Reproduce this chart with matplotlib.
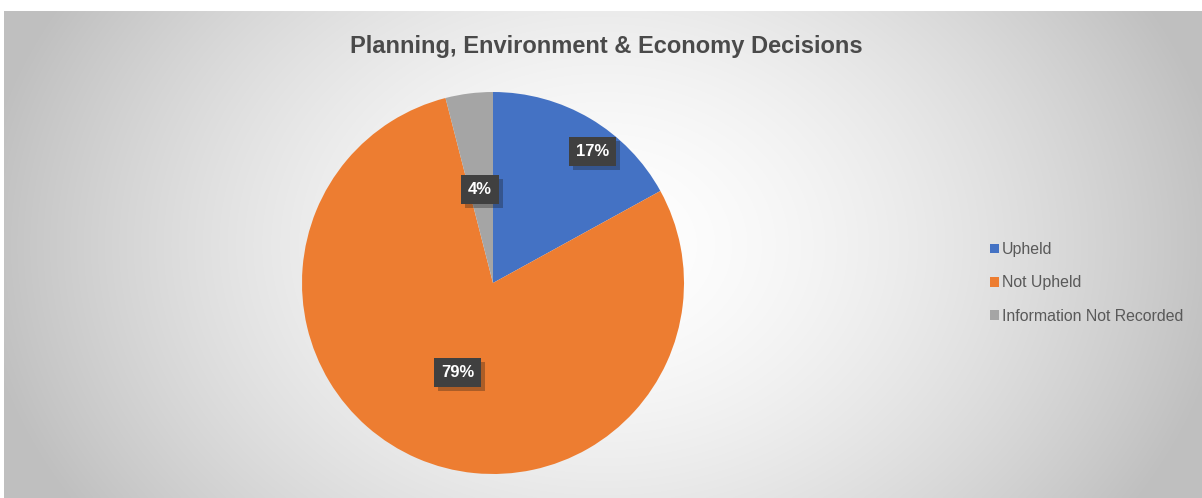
import matplotlib
matplotlib.use("Agg")
import matplotlib.pyplot as plt
import matplotlib.patheffects as pe
import numpy as np

plt.rcParams['font.family'] = ['Liberation Sans', 'DejaVu Sans']

categories = ["Upheld", "Not Upheld", "Information Not Recorded"]
values = [17, 79, 4]
colors = ["#4472C4", "#ED7D31", "#A5A5A5"]
title = "Planning, Environment & Economy Decisions"

W, H = 1202, 498
fig = plt.figure(figsize=(W / 100, H / 100), dpi=100)
fig.patch.set_facecolor("white")

# background panel with radial gradient
bg = fig.add_axes([4 / W, 0, 1 - 4 / W, 1 - 11 / H])
bg.set_axis_off()
ny, nx = 300, 700
yy, xx = np.mgrid[0:ny, 0:nx]
cx, cy = nx * 0.5, ny * 0.48
d = np.sqrt(((xx - cx) / (nx * 0.5)) ** 2 + ((yy - cy) / (ny * 0.5 * 1.9)) ** 2)
d = np.clip(d / 1.05, 0, 1)
v = 1.0 - 0.25 * d ** 1.6
img = np.dstack([v, v, v])
bg.imshow(img, aspect="auto", extent=[0, 1, 0, 1], interpolation="bilinear")
bg.set_xlim(0, 1)
bg.set_ylim(0, 1)

# pie axes: center (493,283), radius 191 px
r = 191
cxp, cyp = 493, 283
ax = fig.add_axes([(cxp - r) / W, (H - cyp - r) / H, 2 * r / W, 2 * r / H])
wedges, _ = ax.pie(values, colors=colors, startangle=90, counterclock=False,
                   radius=1.0, wedgeprops=dict(linewidth=0))
ax.set_xlim(-1, 1)
ax.set_ylim(-1, 1)
ax.set_aspect("equal")

# label positions in order of values: Upheld, Not Upheld, Information Not Recorded
label_pos = [(0.52, 0.69), (-0.185, -0.47), (-0.07, 0.49)]
for val, (lx, ly) in zip(values, label_pos):
    ax.text(lx, ly, f"{val}%", ha="center", va="center", color="white",
            fontsize=12, fontweight="bold",
            bbox=dict(boxstyle="square,pad=0.42", facecolor="#404040",
                      edgecolor="none",
                      path_effects=[pe.SimplePatchShadow(offset=(3, -3), alpha=0.3, rho=0.3),
                                    pe.Normal()]))

fig.text(606 / W, 1 - 46 / H, title, ha="center", va="center",
         fontsize=17, fontweight="bold", color="#4a4a4a")

handles = [plt.Rectangle((0, 0), 1, 1, facecolor=c, edgecolor="none") for c in colors]
leg = fig.legend(handles, categories, loc="center left",
                 bbox_to_anchor=(984 / W, 1 - 283 / H), frameon=False,
                 fontsize=11.4, handlelength=0.55, handleheight=0.55,
                 handletextpad=0.2, labelspacing=1.15, borderaxespad=0)
for t in leg.get_texts():
    t.set_color("#595959")

fig.savefig("out.png", dpi=100)
